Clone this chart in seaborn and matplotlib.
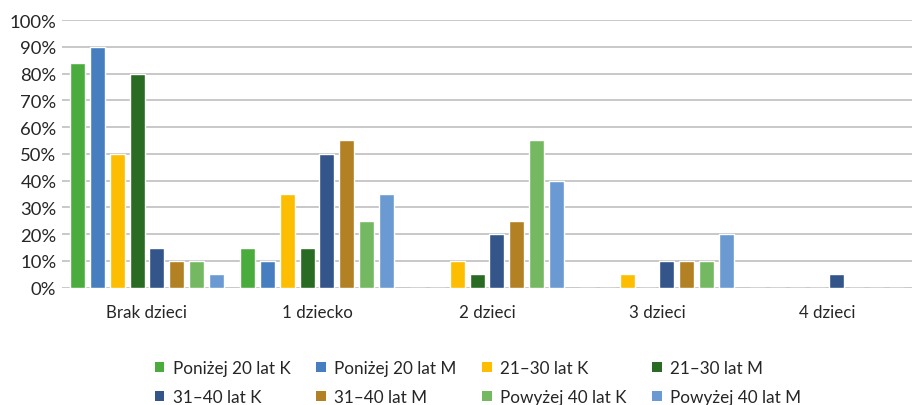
import matplotlib
matplotlib.use("Agg")
import matplotlib.pyplot as plt
from matplotlib.patches import Patch
from matplotlib.ticker import PercentFormatter, MultipleLocator
import pandas as pd
import seaborn as sns

categories = ["Brak dzieci", "1 dziecko", "2 dzieci", "3 dzieci", "4 dzieci"]
series = ["Poniżej 20 lat K", "Poniżej 20 lat M", "21–30 lat K", "21–30 lat M",
          "31–40 lat K", "31–40 lat M", "Powyżej 40 lat K", "Powyżej 40 lat M"]
values = {
    "Poniżej 20 lat K": [0.84, 0.15, 0.00, 0.00, 0.00],
    "Poniżej 20 lat M": [0.90, 0.10, 0.00, 0.00, 0.00],
    "21–30 lat K":      [0.50, 0.35, 0.10, 0.05, 0.00],
    "21–30 lat M":      [0.80, 0.15, 0.05, 0.00, 0.00],
    "31–40 lat K":      [0.15, 0.50, 0.20, 0.10, 0.05],
    "31–40 lat M":      [0.10, 0.55, 0.25, 0.10, 0.00],
    "Powyżej 40 lat K": [0.10, 0.25, 0.55, 0.10, 0.00],
    "Powyżej 40 lat M": [0.05, 0.35, 0.40, 0.20, 0.00],
}
colors = ["#4BAC3E", "#467EC0", "#FDBD00", "#2A6B24",
          "#33558A", "#B28124", "#74B962", "#6B9AD2"]

rows = [(cat, s, values[s][i]) for s in series for i, cat in enumerate(categories)]
df = pd.DataFrame(rows, columns=["kategoria", "grupa", "udzial"])

sns.set_theme(style="white")
plt.rcParams["font.family"] = ["Lato", "DejaVu Sans"]
text_color = "#262626"

fig = plt.figure(figsize=(9.14, 4.06), dpi=100)
ax = fig.add_axes([62 / 914, 1 - 288.7 / 406, 850 / 914, 267.7 / 406])

sns.barplot(data=df, x="kategoria", y="udzial", hue="grupa",
            order=categories, hue_order=series, palette=colors,
            width=0.94, gap=0.25, saturation=1, legend=False, ax=ax, zorder=3)

ax.set_ylim(0, 1)
ax.set_xlim(-0.5, len(categories) - 0.5)
ax.yaxis.set_major_locator(MultipleLocator(0.1))
ax.yaxis.set_major_formatter(PercentFormatter(1.0, decimals=0))
ax.grid(axis="y", color="#bfbfbf", linewidth=1.2, zorder=0)
ax.set_axisbelow(True)
for sp in ax.spines.values():
    sp.set_visible(False)
ax.set_xlabel("")
ax.set_ylabel("")
ax.tick_params(axis="y", labelsize=13.3, colors=text_color, pad=4, length=0)
ax.tick_params(axis="x", labelsize=12.2, colors=text_color, pad=12, length=0)

# square legend keys, laid out row by row in four columns
handles = [Patch(facecolor=c, edgecolor="none") for c in colors]
order = [0, 4, 1, 5, 2, 6, 3, 7]
fig.legend([handles[i] for i in order], [series[i] for i in order],
           loc="upper left", bbox_to_anchor=(155 / 914, 1 - 361 / 406),
           ncol=4, frameon=False, fontsize=12.3, borderpad=0, borderaxespad=0,
           handlelength=0.55, handleheight=0.55, handletextpad=0.5,
           columnspacing=1.5, labelspacing=0.75, labelcolor=text_color)

fig.savefig("out.png", dpi=100)
